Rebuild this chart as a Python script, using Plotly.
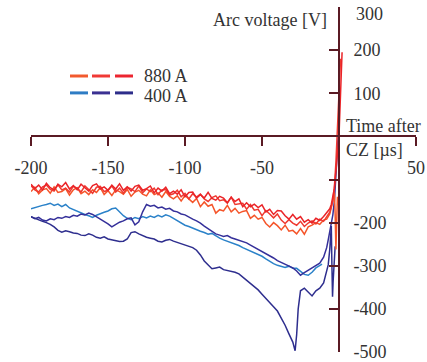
import plotly.graph_objects as go

# shared time grid (µs) from -200 to -30 in 2.5 µs steps
T = [-200, -197.5, -195, -192.5, -190, -187.5, -185, -182.5, -180, -177.5,
     -175, -172.5, -170, -167.5, -165, -162.5, -160, -157.5, -155, -152.5,
     -150, -147.5, -145, -142.5, -140, -137.5, -135, -132.5, -130, -127.5,
     -125, -122.5, -120, -117.5, -115, -112.5, -110, -107.5, -105, -102.5,
     -100, -97.5, -95, -92.5, -90, -87.5, -85, -82.5, -80, -77.5,
     -75, -72.5, -70, -67.5, -65, -62.5, -60, -57.5, -55, -52.5,
     -50, -47.5, -45, -42.5, -40, -37.5, -35, -32.5, -30]

# 880 A, trace 1 (red)
red1_body = [-111, -121, -113, -124, -109, -119, -124, -111, -117, -107,
             -122, -114, -124, -111, -119, -127, -114, -110, -122, -117,
             -125, -113, -122, -110, -125, -117, -127, -116, -113, -125,
             -121, -115, -131, -120, -127, -118, -133, -127, -134, -124,
             -140, -130, -129, -143, -135, -143, -130, -144, -148, -139,
             -143, -154, -141, -151, -145, -163, -154, -163, -157, -165,
             -159, -175, -169, -181, -172, -173, -184, -192, -181]
red1_tail_t = [-27.5, -25, -22.5, -20, -17.5, -15, -12.5, -10, -8, -6, -5, -4,
               -3, -2.5, -2, -1.5, -1, -0.5, 0, 0.5, 1, 1.5, 2]
red1_tail_v = [-192, -186, -199, -193, -201, -190, -195, -186, -178, -168, -158, -140,
               -120, -100, -85, -60, -40, -20, 0, 50, 110, 165, 195]

# 880 A, trace 2 (orange-red)
red2_body = [-128, -118, -133, -124, -121, -132, -117, -130, -128, -121,
             -136, -124, -119, -133, -127, -135, -124, -130, -119, -135,
             -126, -137, -124, -128, -134, -123, -139, -129, -125, -134,
             -138, -124, -135, -131, -141, -128, -139, -145, -138, -150,
             -137, -144, -153, -144, -163, -152, -162, -158, -178, -170,
             -173, -160, -175, -167, -178, -174, -172, -190, -183, -192,
             -188, -202, -210, -200, -207, -217, -206, -220, -218]
red2_tail_t = [-27.5, -25, -22.5, -20, -17.5, -15, -12.5, -10, -8, -6, -5, -4,
               -3, -2.5, -2, -1.5, -1]
red2_tail_v = [-226, -214, -227, -210, -206, -200, -204, -194, -192, -180, -165, -150,
               -130, -180, -262, -200, -140]

# 880 A, trace 3 (red)
red3_body = [-114, -124, -129, -117, -113, -123, -127, -112, -124, -120,
             -129, -116, -120, -129, -115, -123, -132, -118, -116, -128,
             -125, -115, -129, -120, -132, -118, -122, -128, -115, -131,
             -122, -128, -120, -135, -124, -123, -136, -133, -125, -140,
             -132, -145, -133, -141, -134, -145, -151, -142, -138, -149,
             -147, -155, -141, -158, -157, -155, -169, -158, -171, -169,
             -184, -172, -180, -189, -180, -194, -202, -193, -201]
red3_tail_t = [-27.5, -25, -22.5, -20, -17.5, -15, -12.5, -10, -8, -6, -4,
               -3, -2, -1, 0, 1]
red3_tail_v = [-206, -197, -209, -201, -196, -203, -192, -197, -185, -176, -150,
               -118, -60, 20, 100, 180]

# 400 A, trace 1 (light blue)
blue1_body = [-168, -165, -163, -160, -158, -155, -160, -157, -163, -158,
              -166, -170, -173, -177, -181, -184, -188, -183, -179, -176,
              -173, -168, -166, -176, -184, -190, -193, -188, -191, -186,
              -189, -185, -188, -183, -187, -182, -185, -190, -196, -201,
              -206, -209, -213, -216, -220, -223, -227, -225, -231, -236,
              -240, -243, -247, -249, -253, -258, -262, -266, -270, -273,
              -278, -284, -290, -295, -299, -302, -304, -301, -306]
blue1_tail_t = [-27.5, -25, -22.5, -20, -17.5, -15, -12.5, -11]
blue1_tail_v = [-306, -312, -320, -322, -315, -305, -298, -296]

# 400 A, trace 2 (dark blue, upper)
blue2_body = [-186, -191, -188, -194, -196, -191, -193, -188, -190, -186,
              -188, -183, -185, -180, -182, -178, -181, -186, -192, -197,
              -203, -210, -204, -199, -196, -191, -189, -205, -198, -175,
              -158, -162, -160, -166, -164, -169, -167, -173, -175, -180,
              -182, -188, -192, -196, -201, -208, -214, -222, -226, -229,
              -232, -230, -235, -238, -241, -244, -247, -252, -257, -262,
              -267, -271, -277, -282, -288, -292, -297, -300, -305]
blue2_tail_t = [-27.5, -25, -22.5, -20, -17.5, -15, -12.5, -10, -8, -7, -6, -5,
                -4, -3, -2, -1.5, -1, -0.6]
blue2_tail_v = [-312, -322, -316, -310, -306, -300, -294, -280, -258, -240, -220, -200,
                -182, -150, -100, -60, -25, 0]

# 400 A, trace 3 (dark blue, lower)
blue3_body = [-186, -190, -193, -197, -200, -204, -210, -218, -222, -219,
              -221, -224, -225, -229, -230, -226, -229, -234, -236, -233,
              -238, -240, -242, -244, -243, -238, -223, -221, -226, -230,
              -234, -236, -238, -243, -245, -241, -239, -243, -246, -249,
              -252, -255, -258, -264, -275, -289, -299, -307, -305, -303,
              -309, -311, -312, -315, -319, -326, -333, -340, -348, -356,
              -366, -375, -385, -395, -405, -420, -438, -458, -477]
blue3_tail_t = [-28.5, -27.5, -26.5, -25, -22.5, -20, -17.5, -15, -12.5, -10, -8, -7,
                -6, -5, -4.6, -4.2, -3.8, -3, -2.5]
blue3_tail_v = [-497, -460, -400, -358, -352, -360, -370, -358, -352, -340, -312, -298,
                -262, -208, -300, -372, -335, -290, -255]

X_TICKS = [-200, -150, -100, -50, 0, 50]
X_TICK_TEXT = ["-200", "-150", "-100", "-50", "", "50"]
Y_TICKS = [300, 200, 100, 0, -100, -200, -300, -400, -500]
# the top label ("300") is placed as a separate text just below its tick
Y_TICK_TEXT = ["", "200", "100", "", "", "-200", "-300", "-400", "-500"]
Y_TOP_LABEL = "300"

LEGEND_LABELS = ["880 A", "400 A"]
LEGEND_COLORS = [["#f25a2e", "#f03a36", "#ec2530"], ["#2e7cc4", "#3b3192", "#2d2d8a"]]

series = [
    (blue1_body, blue1_tail_t, blue1_tail_v, "#2b82c9"),
    (blue2_body, blue2_tail_t, blue2_tail_v, "#35309a"),
    (blue3_body, blue3_tail_t, blue3_tail_v, "#2e2e8e"),
    (red2_body, red2_tail_t, red2_tail_v, "#f5552a"),
    (red3_body, red3_tail_t, red3_tail_v, "#ef3a30"),
    (red1_body, red1_tail_t, red1_tail_v, "#ea2428"),
]

fig = go.Figure()
for body, tt, tv, col in series:
    fig.add_trace(go.Scatter(x=T + tt, y=body + tv, mode="lines",
                             line=dict(color=col, width=1.5), showlegend=False,
                             hoverinfo="skip"))

AXC = "#5a1a24"
FONT = dict(family="Liberation Serif, Times New Roman, Times, serif", size=18, color="#333333")

fig.update_layout(
    width=427, height=362, autosize=False,
    margin=dict(l=31, r=11, t=7, b=10, autoexpand=False),
    paper_bgcolor="white", plot_bgcolor="white",
    font=FONT,
    showlegend=False,
    xaxis=dict(range=[-200, 50], anchor="free", position=0.625, automargin=False,
               showgrid=False, zeroline=False, showline=True, linecolor=AXC, linewidth=2,
               ticks="outside", ticklen=9, tickwidth=2, tickcolor=AXC,
               tickvals=X_TICKS, ticktext=X_TICK_TEXT, ticklabelstandoff=6,
               ticklabeloverflow="allow", tickfont=FONT),
    yaxis=dict(range=[-500, 300], anchor="free", position=0.8, side="right", automargin=False,
               showgrid=False, zeroline=False, showline=True, linecolor=AXC, linewidth=2,
               ticks="inside", ticklen=9, tickwidth=2, tickcolor=AXC,
               tickvals=Y_TICKS, ticktext=Y_TICK_TEXT, ticklabelstandoff=10,
               ticklabeloverflow="allow", tickfont=FONT),
)

fig.add_annotation(text=Y_TOP_LABEL, xref="paper", yref="paper", x=0.840, y=1.0,
                   xanchor="left", yanchor="top", yshift=5, showarrow=False, font=FONT)
fig.add_annotation(text="Arc voltage [V]", xref="paper", yref="paper", x=0.774, y=0.962,
                   xanchor="right", yanchor="middle", showarrow=False, font=FONT)
fig.add_annotation(text="Time after", xref="paper", yref="paper", x=0.812, y=0.655,
                   xanchor="left", yanchor="middle", showarrow=False, font=FONT)
fig.add_annotation(text="CZ [µs]", xref="paper", yref="paper", x=0.812, y=0.586,
                   xanchor="left", yanchor="middle", showarrow=False, font=FONT)

# legend drawn as dashed samples
seg_x = [(0.1013, 0.1481), (0.1584, 0.2052), (0.2182, 0.2649)]
row_y = [0.800, 0.751]
text_y = [0.799, 0.743]
for r, (lab, cols) in enumerate(zip(LEGEND_LABELS, LEGEND_COLORS)):
    for (x0, x1), c in zip(seg_x, cols):
        fig.add_shape(type="line", xref="paper", yref="paper", x0=x0, x1=x1,
                      y0=row_y[r], y1=row_y[r], line=dict(color=c, width=3))
    fig.add_annotation(text=lab, xref="paper", yref="paper", x=0.288, y=text_y[r],
                       xanchor="left", yanchor="middle", showarrow=False, font=FONT)

fig.write_html("out.html", config={"displayModeBar": False},
               post_script="document.body.style.margin='0';")
